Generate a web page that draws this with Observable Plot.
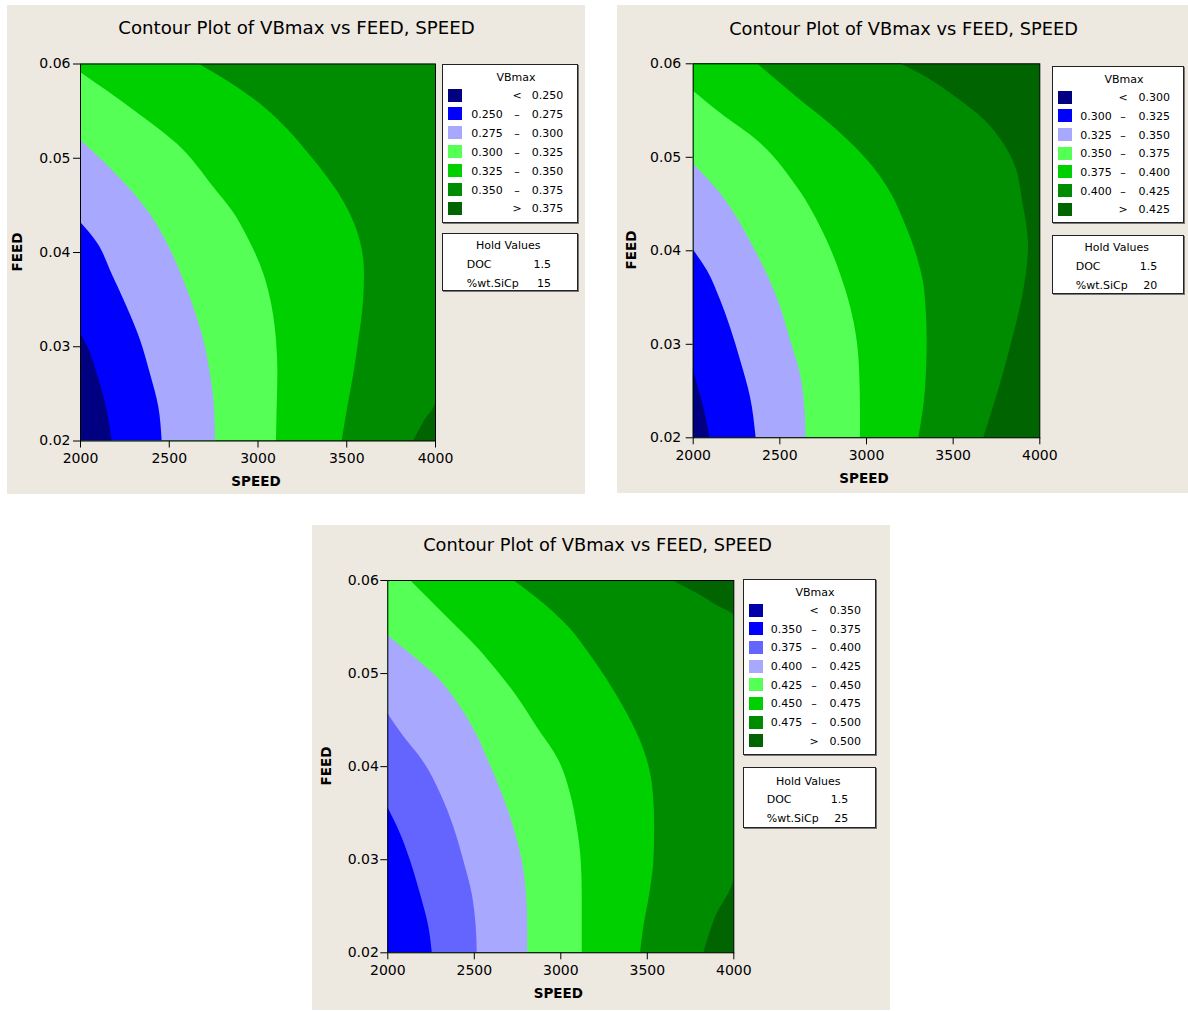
<!DOCTYPE html>
<html><head><meta charset="utf-8">
<script src="https://cdn.jsdelivr.net/npm/d3@7"></script>
<script src="https://cdn.jsdelivr.net/npm/@observablehq/plot@0.6"></script>
<style>
html,body{margin:0;padding:0;background:#fff;}
body{width:1188px;height:1011px;position:relative;overflow:hidden;font-family:"DejaVu Sans",sans-serif;}
.panel{position:absolute;background:#EEE9E0;}
.t{position:absolute;white-space:nowrap;line-height:1;color:#000;}
.box{position:absolute;background:#fff;border:1px solid #222;box-sizing:border-box;box-shadow:1px 1px 0 #777;}
.sw{position:absolute;}
.plotwrap{position:absolute;}
</style></head><body>
<script>
// ---------- data ----------
const xTicks = [2000, 2500, 3000, 3500, 4000];
const yTicks = [0.02, 0.03, 0.04, 0.05, 0.06];
const titleText = "Contour Plot of VBmax vs FEED, SPEED";
const xLabel = "SPEED";
const yLabel = "FEED";
const legendTitle = "VBmax";
const holdTitle = "Hold Values";
const holdNames = ["DOC", "%wt.SiCp"];
const holdDOC = [1.5, 1.5, 1.5];
const holdSiCp = [15, 20, 25];

const levelsA = [0.250, 0.275, 0.300, 0.325, 0.350, 0.375];
const levelsB = [0.300, 0.325, 0.350, 0.375, 0.400, 0.425];
const levelsC = [0.350, 0.375, 0.400, 0.425, 0.450, 0.475, 0.500];

const coloursA = ["#000080", "#0000FF", "#A8A8FF", "#55FF55", "#00D000", "#008C00", "#006400"];
const coloursB = ["#000080", "#0000FF", "#A8A8FF", "#55FF55", "#00D000", "#008C00", "#006400"];
const coloursC = ["#0000A8", "#0000FF", "#6464FF", "#A8A8FF", "#55FF55", "#00D000", "#008C00", "#006400"];

// contour boundaries: [SPEED, FEED]
const a0250 = [[2178,0.02],[2146,0.0236],[2094,0.0271],[2041,0.03],[2000,0.0314]];
const a0275 = [[2460,0.02],[2441,0.0236],[2394,0.0271],[2338,0.0307],[2263,0.0342],[2178,0.0377],[2095,0.041],[2000,0.0432]];
const a0300 = [[2761,0.02],[2755,0.0236],[2732,0.0271],[2695,0.0307],[2638,0.0342],[2568,0.0377],[2480,0.0413],[2395,0.044],[2290,0.0465],[2165,0.049],[2000,0.0519]];
const a0325 = [[3104,0.02],[3108,0.0236],[3112,0.0271],[3104,0.0307],[3080,0.0342],[3033,0.0377],[2950,0.0413],[2860,0.0443],[2751,0.0469],[2545,0.0515],[2300,0.0551],[2000,0.0591]];
const a0350 = [[3474,0.02],[3506,0.0236],[3540,0.0271],[3568,0.0307],[3592,0.0342],[3600,0.0377],[3585,0.0405],[3545,0.043],[3480,0.0455],[3390,0.048],[3285,0.0505],[3170,0.053],[3030,0.0555],[2860,0.0578],[2666,0.06]];
const a0375 = [[3876,0.02],[3934,0.022],[4000,0.0241],[4000,0.06]];

const b0300 = [[2096,0.02],[2061,0.0233],[2023,0.0258],[2000,0.0274]];
const b0325 = [[2363,0.02],[2331,0.0243],[2273,0.0283],[2215,0.0318],[2158,0.0347],[2081,0.0379],[2000,0.0401]];
const b0350 = [[2652,0.02],[2644,0.0233],[2619,0.0268],[2562,0.0304],[2504,0.034],[2427,0.0375],[2345,0.0405],[2270,0.043],[2158,0.0461],[2000,0.0493]];
const b0375 = [[2965,0.02],[2965,0.0233],[2961,0.0268],[2946,0.0304],[2908,0.034],[2850,0.0375],[2770,0.0412],[2600,0.0468],[2369,0.0518],[2158,0.0547],[2000,0.0571]];
const b0400 = [[3302,0.02],[3340,0.0251],[3350,0.0304],[3335,0.0358],[3290,0.0395],[3220,0.043],[3140,0.0462],[3023,0.0493],[2831,0.0529],[2600,0.0564],[2369,0.06]];
const b0425 = [[3677,0.02],[3763,0.0251],[3841,0.0304],[3908,0.0358],[3935,0.0405],[3900,0.0454],[3860,0.049],[3790,0.0515],[3680,0.054],[3510,0.0565],[3350,0.0585],[3197,0.06]];

const c0375 = [[2257,0.02],[2237,0.0228],[2189,0.0263],[2131,0.0299],[2073,0.0328],[2000,0.0356]];
const c0400 = [[2517,0.02],[2511,0.0228],[2488,0.0263],[2439,0.0299],[2382,0.0335],[2305,0.0371],[2200,0.0407],[2093,0.0432],[2000,0.0457]];
const c0425 = [[2809,0.02],[2809,0.0228],[2802,0.0263],[2777,0.0299],[2728,0.0335],[2661,0.0371],[2580,0.0407],[2520,0.0432],[2420,0.0464],[2286,0.0496],[2131,0.0521],[2000,0.0541]];
const c0450 = [[3124,0.02],[3124,0.0263],[3118,0.0299],[3095,0.0335],[3056,0.0371],[2988,0.0407],[2864,0.0442],[2748,0.0475],[2632,0.0503],[2517,0.0528],[2362,0.0557],[2228,0.0582],[2131,0.06]];
const c0475 = [[3461,0.02],[3480,0.0228],[3514,0.0263],[3538,0.0299],[3543,0.0335],[3535,0.0371],[3510,0.04],[3455,0.043],[3375,0.046],[3280,0.049],[3170,0.052],[3045,0.055],[2902,0.0575],[2728,0.06]];
const c0500 = [[3827,0.02],[3894,0.0238],[4000,0.0281],[4000,0.0562],[3904,0.0573],[3808,0.0584],[3644,0.06]];

const boundsA = [a0250, a0275, a0300, a0325, a0350, a0375];
const boundsB = [b0300, b0325, b0350, b0375, b0400, b0425];
const boundsC = [null, c0375, c0400, c0425, c0450, c0475, c0500];

// ---------- layout ----------
const panels = [
  {bg:[7,5,578,489], frame:[80,63.5,435,440.5], yPad:3, levels:levelsA, colours:coloursA, bounds:boundsA,
   title:[296.5,28,18.2], xlab:[256,482], ylab:[17.5,252],
   leg:{box:[442,64,136,159], tx:516, ty:77, row0:95, step:18.9, swx:448.3, n1:502.7, mid:517, n2:563.3},
   hold:{box:[442,232.7,136,58.3], tx:508.3, ty:245, lx:466.7, ys:[264,283.3], vr:551}, sicp:holdSiCp[0], doc:holdDOC[0]},
  {bg:[617,5,571,488], frame:[692.7,63.3,1039.3,437.3], yPad:5, levels:levelsB, colours:coloursB, bounds:boundsB,
   title:[903.5,28.5,17.8], xlab:[864,478.5], ylab:[631.7,250.3],
   leg:{box:[1051.7,65.7,132.3,157], tx:1124, ty:79, row0:97.3, step:18.67, swx:1057.7, n1:1111.7, mid:1123, n2:1170},
   hold:{box:[1051.7,235,132.3,59.3], tx:1116.7, ty:246.7, lx:1075.7, ys:[266,285], vr:1157.3}, sicp:holdSiCp[1], doc:holdDOC[1]},
  {bg:[312,525,578,485], frame:[387.3,580,733.3,952.3], yPad:2, levels:levelsC, colours:coloursC, bounds:boundsC,
   title:[597.5,545,17.8], xlab:[558.3,993.5], ylab:[327.2,766],
   leg:{box:[743.3,579.3,132.4,175.7], tx:815, ty:591.7, row0:610, step:18.67, swx:749, n1:802.3, mid:814, n2:861},
   hold:{box:[743.3,766.7,132.4,61], tx:808.3, ty:780.7, lx:766.7, ys:[799.3,818.3], vr:848.3}, sicp:holdSiCp[2], doc:holdDOC[2]}
];

const body = document.body;
function el(cls, css) { const d = document.createElement("div"); d.className = cls; Object.assign(d.style, css); body.appendChild(d); return d; }
function txt(s, x, y, anchor, css) {
  const d = el("t", Object.assign({left: x + "px", top: y + "px", fontSize: "11px"}, css || {}));
  d.textContent = s;
  const tx = anchor === "middle" ? "-50%" : anchor === "end" ? "-100%" : "0";
  d.style.transform = `translate(${tx},-50%)`;
  return d;
}
const fmt3 = d3.format(".3f");

for (const p of panels) {
  const [bx, by, bw, bh] = p.bg;
  el("panel", {left: bx + "px", top: by + "px", width: bw + "px", height: bh + "px"});
  const [fl, ft, fr, fb] = p.frame;
  const n = p.levels.length;
  const marks = [Plot.frame({fill: p.colours[n]})];
  for (let k = n - 1; k >= 0; k--) {
    const b = p.bounds[k];
    if (!b) continue;
    marks.push(Plot.areaX(b, {y: d => d[1], x1: () => xTicks[0], x2: d => d[0], fill: p.colours[k], curve: "monotone-y", clip: true}));
  }
  marks.push(Plot.frame({stroke: "#000", strokeWidth: 1}));
  const svg = Plot.plot({
    width: bw, height: bh,
    marginLeft: fl - bx, marginTop: ft - by, marginRight: bx + bw - fr, marginBottom: by + bh - fb,
    x: {domain: [xTicks[0], xTicks[xTicks.length - 1]], ticks: xTicks, tickFormat: d => String(d), tickSize: 7, tickPadding: 5, label: null},
    y: {domain: [yTicks[0], yTicks[yTicks.length - 1]], ticks: yTicks, tickFormat: d3.format(".2f"), tickSize: 7, tickPadding: p.yPad, label: null},
    style: {background: "transparent", fontFamily: "DejaVu Sans", fontSize: "14px", color: "#000", overflow: "visible"},
    marks
  });
  const w = el("plotwrap", {left: bx + "px", top: by + "px", width: bw + "px", height: bh + "px"});
  w.appendChild(svg);

  // title & axis labels
  txt(titleText, p.title[0], p.title[1], "middle", {fontSize: p.title[2] + "px"});
  txt(xLabel, p.xlab[0], p.xlab[1], "middle", {fontSize: "13.5px", fontWeight: "bold"});
  const yl = txt(yLabel, p.ylab[0], p.ylab[1], "middle", {fontSize: "13.5px", fontWeight: "bold"});
  yl.style.transform = "translate(-50%,-50%) rotate(-90deg)";

  // legend
  const L = p.leg;
  el("box", {left: L.box[0] + "px", top: L.box[1] + "px", width: L.box[2] + "px", height: L.box[3] + "px"});
  txt(legendTitle, L.tx, L.ty, "middle");
  for (let i = 0; i <= n; i++) {
    const y = L.row0 + i * L.step;
    el("sw", {left: L.swx + "px", top: (y - 6.5) + "px", width: "14px", height: "13px", background: p.colours[i]});
    if (i === 0) { txt("<", L.mid, y, "middle"); txt(fmt3(p.levels[0]), L.n2, y, "end"); }
    else if (i === n) { txt(">", L.mid, y, "middle"); txt(fmt3(p.levels[n - 1]), L.n2, y, "end"); }
    else { txt(fmt3(p.levels[i - 1]), L.n1, y, "end"); txt("–", L.mid, y, "middle"); txt(fmt3(p.levels[i]), L.n2, y, "end"); }
  }
  // hold values
  const H = p.hold;
  el("box", {left: H.box[0] + "px", top: H.box[1] + "px", width: H.box[2] + "px", height: H.box[3] + "px"});
  txt(holdTitle, H.tx, H.ty, "middle");
  txt(holdNames[0], H.lx, H.ys[0], "start");
  txt(String(p.doc), H.vr, H.ys[0], "end");
  txt(holdNames[1], H.lx, H.ys[1], "start");
  txt(String(p.sicp), H.vr, H.ys[1], "end");
}
</script></body></html>
